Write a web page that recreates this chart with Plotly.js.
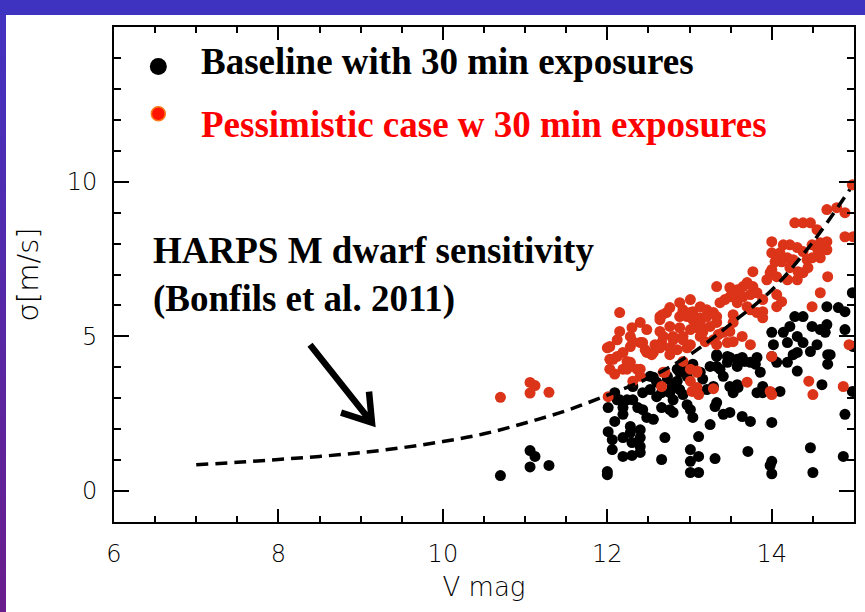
<!DOCTYPE html>
<html>
<head>
<meta charset="utf-8">
<script src="https://cdn.plot.ly/plotly-3.0.1.min.js"></script>
<style>
  html, body { margin: 0; padding: 0; }
  body {
    width: 865px; height: 612px; overflow: hidden;
    background-color: #ffffff;
    background-image: linear-gradient(#3d33c0, #3d33c0), linear-gradient(to bottom, #4233c2, #6a1d8c);
    background-size: 100% 15px, 6px 100%;
    background-position: 0 0, 0 0;
    background-repeat: no-repeat;
  }
  #chart { width: 865px; height: 612px; }
</style>
</head>
<body>
<div id="chart"></div>
<script>
// Baseline with 30 min exposures (black)
const baseX = [10.70,11.06,11.12,11.06,11.29,12.01,12.01,12.06,12.06,12.00,12.00,12.09,12.12,12.19,12.19,12.19,12.28,12.28,12.30,12.19,12.30,12.40,12.40,12.40,12.40,12.37,12.43,12.48,12.56,12.31,12.09,12.66,12.66,12.70,12.66,12.76,12.80,12.79,12.85,12.88,12.92,12.97,13.01,13.04,13.01,13.01,13.01,13.11,13.11,13.11,13.25,13.31,13.33,13.31,13.29,13.33,13.33,13.41,13.41,13.49,13.49,13.58,13.64,13.67,13.80,13.86,13.82,13.89,13.53,13.59,13.64,13.74,13.71,14.00,14.00,13.98,14.00,14.00,14.10,14.19,14.31,14.31,14.47,14.68,14.68,14.61,14.47,14.50,14.89,14.87,14.98,12.52,12.60,12.73,12.85,12.92,13.04,13.16,13.21,12.88,12.76,12.80,12.60,12.52,12.43,12.31,12.24,12.15,13.49,13.58,13.46,13.82,13.74,13.89,14.06,14.26,14.98,14.89,14.99,14.67,14.81,14.89,14.28,14.38,14.49,14.59,14.67,14.65,14.22,14.31,14.14,14.00,14.02,14.19,14.38,14.55,14.71,14.00,13.33,13.25,13.37,13.46,13.58,12.73,12.56,12.97,13.13];
const baseY = [0.50,1.31,1.12,0.78,0.83,2.70,1.92,1.66,1.34,0.63,0.53,2.25,2.95,2.70,2.48,1.73,2.09,1.89,1.57,1.12,1.15,1.98,1.73,1.44,1.25,2.70,2.63,2.38,2.32,2.95,3.18,3.18,2.70,1.73,1.02,2.63,2.54,3.38,3.55,3.84,3.12,2.79,2.63,2.38,1.34,0.96,0.60,0.60,1.12,1.76,2.15,2.73,2.86,1.05,3.38,4.03,4.35,3.71,2.48,2.54,4.32,4.26,4.32,4.19,4.10,3.84,3.18,3.18,3.18,3.35,2.41,2.25,1.28,2.22,0.96,0.83,0.56,3.18,3.22,4.16,4.48,3.88,4.51,4.41,4.10,3.44,1.40,0.60,2.48,1.12,3.22,3.71,3.52,3.62,3.94,4.03,4.10,3.62,3.28,3.28,3.18,2.95,3.05,3.28,3.18,3.38,2.95,2.95,3.38,3.44,4.35,4.32,4.16,3.38,4.16,4.41,6.41,5.22,4.67,5.96,5.93,5.80,5.64,5.64,5.32,5.22,5.38,5.13,5.32,5.00,5.13,5.13,4.73,4.80,4.80,4.73,4.41,4.35,4.41,4.03,3.94,4.16,4.03,3.71,3.68,3.71,3.84];

// Pessimistic case w 30 min exposures (red)
const pessX = [10.70,11.06,11.12,11.06,11.29,12.01,12.66,12.70,13.01,13.03,13.09,13.11,13.09,13.29,13.70,13.98,14.00,14.00,14.45,14.50,14.87,12.03,12.09,12.19,12.28,12.31,12.40,12.19,12.48,12.54,14.98,14.79,14.89,14.67,14.28,14.38,14.47,14.55,14.00,14.14,14.22,14.31,14.38,14.49,14.59,14.67,14.67,14.56,14.49,14.59,14.43,14.00,14.10,14.19,14.26,14.12,14.04,14.22,14.00,14.32,14.38,14.44,14.89,14.99,13.77,13.98,13.94,14.06,14.19,14.31,14.68,14.59,13.33,13.49,13.58,13.65,13.70,13.77,13.82,13.74,13.65,13.59,13.49,13.58,13.70,13.74,13.37,13.43,13.89,14.06,14.12,14.06,13.89,13.82,13.89,14.49,13.33,13.53,13.53,13.64,13.74,13.49,13.35,13.33,13.13,13.21,13.01,13.04,12.97,13.04,13.13,12.88,12.76,12.72,12.64,12.88,12.92,12.76,12.88,13.01,13.09,13.16,13.25,12.64,12.80,12.92,12.66,12.58,12.76,13.13,13.19,12.97,12.40,12.30,12.28,12.15,12.15,12.40,12.46,12.28,12.03,12.12,12.00,13.53,12.48,12.12,12.31,12.43,12.56,12.07,12.24,12.36,12.03,12.24,12.40,12.64,12.67,12.92,13.01,13.13,13.21,13.29,13.33,13.41,13.46,13.53,13.29,13.16,12.68,12.80,12.92,13.01,12.85,12.64,12.76,12.92,13.01,13.09,12.68,14.94];
const pessY = [3.03,3.51,3.41,3.17,3.19,3.05,3.38,3.84,3.55,3.22,3.35,3.12,3.84,3.31,3.52,3.22,4.35,3.12,3.55,3.12,3.38,4.26,3.78,3.94,4.16,3.55,3.94,4.48,4.48,4.41,9.90,9.16,9.00,9.10,8.67,8.67,8.67,8.45,8.06,7.96,7.96,7.87,7.74,7.96,8.03,8.06,7.80,7.80,7.54,7.54,7.48,7.70,7.70,7.54,7.48,7.41,7.41,7.22,7.16,7.09,7.06,7.22,8.22,8.22,7.09,7.06,6.83,6.93,6.83,6.83,6.93,6.41,6.61,6.58,6.51,6.61,6.74,6.61,6.41,6.35,6.28,6.35,6.28,6.09,5.96,5.86,6.09,6.19,6.19,6.35,6.12,5.96,5.80,5.77,5.60,5.96,5.64,5.70,5.45,5.00,4.73,5.16,5.06,4.73,5.96,5.86,6.19,5.80,5.64,5.54,5.60,5.64,5.93,5.77,5.64,6.09,5.86,5.32,5.28,5.22,5.28,5.22,5.32,5.16,5.00,5.00,4.80,4.73,4.63,5.00,4.83,4.63,5.45,5.28,5.00,5.16,5.77,4.80,4.57,4.67,4.67,4.35,4.63,6.41,5.22,4.89,4.83,4.80,4.48,4.26,4.19,3.94,3.94,3.94,3.71,5.54,5.70,5.77,5.77,5.45,5.64,5.77,5.45,5.13,4.80,4.83,4.89,5.13,5.00,4.89,4.89,4.73,4.57,4.63,4.41,4.19,3.94,3.88,3.84,4.73];

// HARPS M dwarf sensitivity curve (Bonfils et al. 2011)
const harpsX = [7.0,7.5,8.0,8.5,9.0,9.5,10.0,10.5,11.0,11.5,12.0,12.5,13.0,13.5,14.0,14.5,14.95];
const harpsY = [0.85,0.93,1.02,1.12,1.24,1.40,1.60,1.85,2.20,2.60,3.10,3.65,4.40,5.40,6.50,8.05,9.75];

const xTickVals = [6,8,10,12,14];
const yTickVals = [0,5,10];

const traces = [
  {x: baseX, y: baseY, type: 'scatter', mode: 'markers', name: 'Baseline with 30 min exposures',
   marker: {color: '#000000', size: 11, line: {width: 0}}, showlegend: false},
  {x: pessX, y: pessY, type: 'scatter', mode: 'markers', name: 'Pessimistic case w 30 min exposures',
   marker: {color: '#dc3418', size: 11, line: {width: 0}}, showlegend: false},
  {x: harpsX, y: harpsY, type: 'scatter', mode: 'lines', name: 'HARPS M dwarf sensitivity',
   line: {color: '#000000', width: 3.5, dash: '12px,7px', shape: 'spline'}, showlegend: false}
];

const tickFont = {family: 'DejaVu Sans', size: 24, color: '#000000', weight: 300};

const layout = {
  width: 865, height: 612,
  margin: {l: 114, r: 11, t: 27, b: 90, pad: 0},
  paper_bgcolor: 'rgba(0,0,0,0)',
  plot_bgcolor: '#ffffff',
  showlegend: false,
  xaxis: {
    range: [6, 15], tickmode: 'array', tickvals: xTickVals, ticktext: xTickVals.map(String),
    ticks: 'inside', ticklen: 13, tickwidth: 2, tickcolor: '#000',
    minor: {dtick: 0.5, tick0: 6, ticks: 'inside', ticklen: 6, tickwidth: 2, tickcolor: '#000'},
    showline: true, linecolor: '#000', linewidth: 2, mirror: 'allticks',
    showgrid: false, zeroline: false, tickfont: tickFont, ticklabelstandoff: 9,
    title: {text: 'V mag', font: {family: 'DejaVu Sans', size: 26, color: '#000000', weight: 300}, standoff: 11}
  },
  yaxis: {
    range: [-1, 15], tickmode: 'array', tickvals: yTickVals, ticktext: yTickVals.map(String),
    ticks: 'inside', ticklen: 15, tickwidth: 2, tickcolor: '#000',
    minor: {dtick: 1, tick0: 0, ticks: 'inside', ticklen: 7, tickwidth: 2, tickcolor: '#000'},
    showline: true, linecolor: '#000', linewidth: 2, mirror: 'allticks',
    showgrid: false, zeroline: false, tickfont: tickFont, ticklabelstandoff: 10,
    title: {text: 'σ[m/s]', font: {family: 'DejaVu Sans', size: 29, color: '#000000', weight: 300}, standoff: 20}
  },
  shapes: [
    {type: 'circle', xref: 'paper', yref: 'paper', xsizemode: 'pixel', ysizemode: 'pixel',
     xanchor: 0.0599, yanchor: 0.9204, x0: -8.5, x1: 8.5, y0: -8.5, y1: 8.5,
     fillcolor: '#000000', line: {width: 0}},
    {type: 'circle', xref: 'paper', yref: 'paper', xsizemode: 'pixel', ysizemode: 'pixel',
     xanchor: 0.0599, yanchor: 0.8248, x0: -7, x1: 7, y0: -7, y1: 7,
     fillcolor: '#ff1400', line: {width: 1.5, color: '#ff7a1a'}},
    {type: 'path', xref: 'paper', yref: 'paper',
     path: 'M 0.2649 0.3582 L 0.3486 0.2006 M 0.3068 0.2208 L 0.3486 0.2006 L 0.3446 0.2633',
     line: {color: '#000000', width: 6.5}}
  ],
  annotations: [
    {xref: 'paper', yref: 'paper', x: 0.115, y: 0.930, xanchor: 'left', yanchor: 'middle', showarrow: false,
     text: '<b>Baseline with 30 min exposures</b>', font: {family: 'Liberation Serif', size: 37, color: '#000000'}},
    {xref: 'paper', yref: 'paper', x: 0.115, y: 0.803, xanchor: 'left', yanchor: 'middle', showarrow: false,
     text: '<b>Pessimistic case w 30 min exposures</b>', font: {family: 'Liberation Serif', size: 37, color: '#ff0000'}},
    {xref: 'paper', yref: 'paper', x: 0.050, y: 0.500, xanchor: 'left', yanchor: 'middle', showarrow: false, align: 'left',
     text: '<b>HARPS M dwarf sensitivity</b><br><b>(Bonfils et al. 2011)</b>', font: {family: 'Liberation Serif', size: 37, color: '#000000'}}
  ]
};

Plotly.newPlot('chart', traces, layout, {displayModeBar: false, staticPlot: true});
</script>
</body>
</html>
